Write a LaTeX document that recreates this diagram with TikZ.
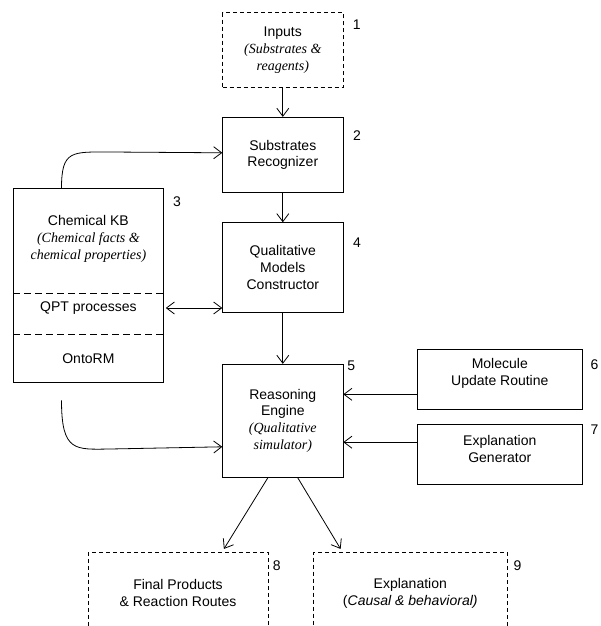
\documentclass[tikz,border=0pt]{standalone}
\usepackage{fontspec}
\setmainfont{Liberation Sans}
\newfontfamily\tnr{Liberation Serif}
\usetikzlibrary{arrows.meta}
\newcommand\fs{\fontsize{14}{16.8}\selectfont}
\newcommand\tit{\tnr\itshape}
\begin{document}
\begin{tikzpicture}[x=1pt,y=-1pt,
  box/.style={draw, line width=0.8pt, inner sep=0pt, align=center, font=\fs},
  dbox/.style={box, dash pattern=on 4pt off 3pt},
  txt/.style={inner sep=0pt, align=center, font=\fs},
  lbl/.style={inner sep=0pt, font=\fs},
  arr/.style={-{Straight Barb[length=8pt,width=12pt]}, line width=0.8pt},
  darr/.style={{Straight Barb[length=8pt,width=12pt]}-{Straight Barb[length=8pt,width=12pt]}, line width=0.8pt}]
\useasboundingbox (0,0) rectangle (600,626);
% boxes
\node[dbox, minimum width=120.2, minimum height=74.6] (inp) at (282.8,50) {Inputs\\{\tit (Substrates \&}\\{\tit reagents)}};
\node[box, minimum width=120.2, minimum height=75] (rec) at (282.8,154.8) {Substrates\\Recognizer};
\node[box, minimum width=150, minimum height=194.6] (kb) at (88.4,285.3) {};
\node[txt] (kbt) at (88.4,239) {Chemical KB\\{\tit (Chemical facts \&}\\{\tit chemical properties)}};
\draw[line width=0.8pt, dash pattern=on 7pt off 4pt] (kb.west |- 0,293.3) coordinate (d1) -- (d1 -| kb.east);
\draw[line width=0.8pt, dash pattern=on 7pt off 4pt] (kb.west |- 0,334) coordinate (d2) -- (d2 -| kb.east);
\node[txt] (qpt) at (88.4,308) {QPT processes};
\node[txt] (onto) at (88.4,359) {OntoRM};
\node[box, minimum width=120.2, minimum height=89.6] (qmc) at (282.8,267.5) {Qualitative\\Models\\Constructor};
\node[box, minimum width=120.2, minimum height=113] (re) at (282.8,420.8) {Reasoning\\Engine\\{\tit (Qualitative}\\{\tit simulator)}};
\node[box, minimum width=165.4, minimum height=60] (mol) at (499.8,379.3) {};
\node[txt] (molt) at (499.8,373.5) {Molecule\\Update Routine};
\node[box, minimum width=165.4, minimum height=59.7] (eg) at (499.8,454.2) {};
\node[txt] (egt) at (499.8,448.7) {Explanation\\Generator};
\node[dbox, minimum width=179.9, minimum height=81.7] (fp) at (178,593.2) {Final Products\\\& Reaction Routes};
\node[dbox, minimum width=194.5, minimum height=81.7] (ex) at (410.3,593.2) {Explanation\\(\textit{Causal \& behavioral)}};
% numbers
\node[lbl] (n1) at (356.7,25) {1};
\node[lbl] (n2) at (357,136) {2};
\node[lbl] (n3) at (177,202) {3};
\node[lbl] (n4) at (357,243) {4};
\node[lbl] (n5) at (351.3,366) {5};
\node[lbl] (n6) at (594.5,365) {6};
\node[lbl] (n7) at (594.5,430) {7};
\node[lbl] (n8) at (276.7,566) {8};
\node[lbl] (n9) at (517.4,566) {9};
% connectors
\draw[arr] (inp) -- (rec);
\draw[arr] (rec) -- (qmc);
\draw[arr] (qmc) -- (re);
\draw[darr, shorten <=2pt] (kb.east |- qpt) -- (qmc.west |- qpt);
\coordinate (kbtop) at (61.5,188);
\draw[arr] (kbtop) .. controls (61.5,150) and (72,152) .. (110,152) -- ([yshift=2pt]rec.west);
\coordinate (kbbot) at (61.5,400.3);
\draw[arr] (kbbot) .. controls (61.5,452) and (75,449.5) .. (110,449) -- ([yshift=-26pt]re.west);
\path ([yshift=-15pt]mol.west) coordinate (m1);
\draw[arr] (m1) -- (m1 -| re.east);
\path ([yshift=12pt]eg.west) coordinate (e1);
\draw[arr] (e1) -- (e1 -| re.east);
\draw[arr] ([xshift=-14.9pt]re.south) -- ([xshift=45.9pt,yshift=3pt]fp.north);
\draw[arr] ([xshift=14.9pt]re.south) -- ([xshift=-69.7pt,yshift=3pt]ex.north);
\end{tikzpicture}
\end{document}
